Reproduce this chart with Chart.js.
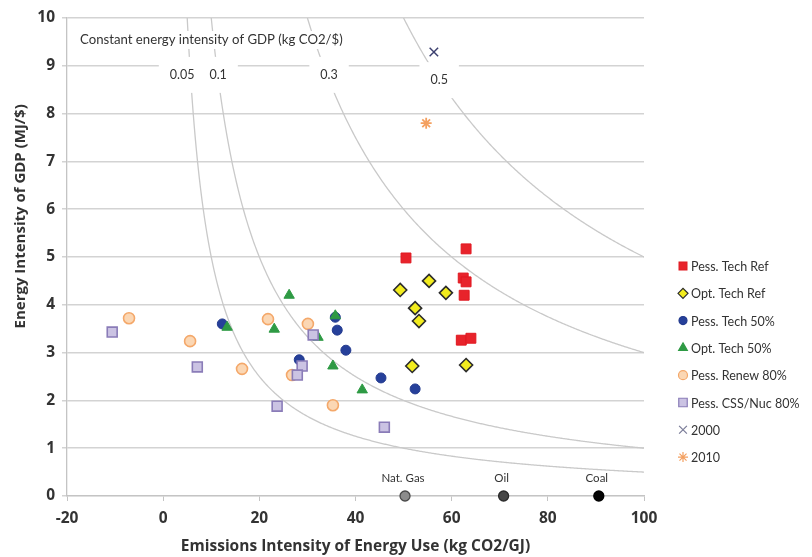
<!DOCTYPE html>
<html>
<head>
<meta charset="utf-8">
<script src="https://cdn.jsdelivr.net/npm/chart.js@4/dist/chart.umd.min.js"></script>
<style>
  html, body { margin: 0; padding: 0; background: #fff; }
  canvas { display: block; }
</style>
</head>
<body>
<canvas id="chart" width="812" height="557"></canvas>
<script>
// data: [emissions kg CO2/GJ, energy MJ/$]
const pessTechRef = [[50.5, 4.98], [63.0, 5.17], [62.4, 4.56], [63.0, 4.48], [62.6, 4.2], [62.0, 3.26], [64.0, 3.3]];
const optTechRef = [[49.3, 4.31], [55.3, 4.5], [58.8, 4.25], [52.4, 3.93], [53.2, 3.66], [51.8, 2.72], [63.0, 2.74]];
const pessTech50 = [[12.3, 3.6], [35.8, 3.74], [36.2, 3.47], [38.0, 3.05], [28.3, 2.85], [45.3, 2.47], [52.4, 2.24]];
const optTech50 = [[26.2, 4.2], [13.3, 3.53], [23.1, 3.49], [35.8, 3.77], [32.2, 3.32], [35.3, 2.72], [41.4, 2.22]];
const pessRenew80 = [[-7.1, 3.72], [5.6, 3.24], [21.8, 3.7], [30.1, 3.6], [16.4, 2.66], [26.8, 2.53], [35.3, 1.9]];
const pessCssNuc80 = [[-10.6, 3.43], [7.1, 2.7], [31.2, 3.37], [28.9, 2.72], [27.9, 2.53], [23.7, 1.88], [46.0, 1.44]];
const year2000 = [[56.3, 9.29]];
const year2010 = [[54.7, 7.8]];

const fuelNames = ['Nat. Gas', 'Oil', 'Coal'];
const fuelEmissions = [50.3, 70.8, 90.6];

// constant kg CO2/$ curves
const curveValues = [0.05, 0.1, 0.3, 0.5];
const curveLabels = ['0.05', '0.1', '0.3', '0.5'];
const curveTitle = 'Constant energy intensity of GDP (kg CO2/$)';

const xTitle = 'Emissions Intensity of Energy Use (kg CO2/GJ)';
const yTitle = 'Energy Intensity of GDP (MJ/$)';

const FONT = 'Lato, "Open Sans", sans-serif';
const AXIS_FONT = '"Open Sans", Lato, sans-serif';
const toPts = arr => arr.map(p => ({ x: p[0], y: p[1] }));

const seriesDefs = [
  { label: 'Pess. Tech Ref', data: pessTechRef, style: 'rect', r: 7, bg: '#e8232b', border: '#e01820', bw: 1, lr: 5.5 },
  { label: 'Opt. Tech Ref', data: optTechRef, style: 'rectRot', r: 6.5, bg: '#f2ec1e', border: '#2b2b2b', bw: 1.6, lr: 5 },
  { label: 'Pess. Tech 50%', data: pessTech50, style: 'circle', r: 5, bg: '#26409a', border: '#233a8e', bw: 1, lr: 4 },
  { label: 'Opt. Tech 50%', data: optTech50, style: 'triangle', r: 6, bg: '#2e9a44', border: '#2e9a44', bw: 1, lr: 5 },
  { label: 'Pess. Renew 80%', data: pessRenew80, style: 'circle', r: 5.5, bg: '#fbd7b4', border: '#f4a86a', bw: 1.6, lr: 4.5 },
  { label: 'Pess. CSS/Nuc 80%', data: pessCssNuc80, style: 'rect', r: 7, bg: '#cbc3e3', border: '#8a7cb8', bw: 1.6, lr: 6 },
  { label: '2000', data: year2000, style: 'crossRot', r: 6, bg: '#3d4170', border: '#3d4170', bw: 1.5, lr: 5.5 },
  { label: '2010', data: year2010, style: 'star', r: 5.5, bg: '#f4a060', border: '#f4a060', bw: 1.8, lr: 5 }
];

const datasets = seriesDefs.map((s, i) => ({
  label: s.label,
  data: toPts(s.data),
  pointStyle: s.style,
  pointRadius: s.r,
  pointBackgroundColor: s.bg,
  pointBorderColor: s.border,
  pointBorderWidth: s.bw,
  showLine: false,
  order: seriesDefs.length - i
}));

datasets.push({
  label: 'fuels',
  data: fuelEmissions.map(x => ({ x: x, y: 0 })),
  pointStyle: 'circle',
  pointRadius: 5,
  pointBackgroundColor: ['#8c8c8c', '#474747', '#050505'],
  pointBorderColor: ['#4a4a4a', '#2a2a2a', '#000'],
  pointBorderWidth: 1.3,
  showLine: false,
  clip: false,
  order: 0
});

// curves, their labels and the white label boxes
const curvePlugin = {
  id: 'curves',
  beforeDatasetsDraw(chart) {
    const { ctx, chartArea: a, scales: { x, y } } = chart;
    ctx.save();
    ctx.beginPath();
    ctx.rect(a.left, a.top, a.right - a.left, a.bottom - a.top);
    ctx.clip();
    ctx.strokeStyle = '#c9c9c9';
    ctx.lineWidth = 1.3;
    curveValues.forEach(c => {
      const k = c * 1000;
      ctx.beginPath();
      let first = true;
      for (let px = x.getPixelForValue(k / 10); px <= a.right + 1; px += 1) {
        const xv = x.getValueForPixel(px);
        if (xv <= 0) continue;
        const py = y.getPixelForValue(k / xv);
        if (first) { ctx.moveTo(px, py); first = false; } else ctx.lineTo(px, py);
      }
      ctx.stroke();
    });
    ctx.restore();

    // label boxes
    const anchors = [[3.95, 8.81], [11.43, 8.81], [34.5, 8.81], [57.4, 8.7]];
    ctx.save();
    ctx.font = '12.5px ' + FONT;
    ctx.textAlign = 'center';
    ctx.textBaseline = 'middle';
    anchors.forEach((p, i) => {
      const cx = x.getPixelForValue(p[0]);
      const cy = y.getPixelForValue(p[1]);
      const w = ctx.measureText(curveLabels[i]).width;
      ctx.fillStyle = '#fff';
      ctx.fillRect(cx - w / 2 - 11, cy - 18, w + 22, 36);
    });
    anchors.forEach((p, i) => {
      ctx.fillStyle = '#333';
      ctx.fillText(curveLabels[i], x.getPixelForValue(p[0]), y.getPixelForValue(p[1]));
    });
    // title of the curves
    ctx.font = '13.2px ' + FONT;
    ctx.textAlign = 'left';
    const tx = x.getPixelForValue(-17.3);
    const ty = y.getPixelForValue(9.54);
    const tw = ctx.measureText(curveTitle).width;
    ctx.fillStyle = '#fff';
    ctx.fillRect(tx - 4, ty - 9, tw + 8, 18);
    ctx.fillStyle = '#333';
    ctx.fillText(curveTitle, tx, ty);
    ctx.restore();
  },
  afterDatasetsDraw(chart) {
    const { ctx, scales: { x, y } } = chart;
    ctx.save();
    ctx.font = '11.5px ' + FONT;
    ctx.fillStyle = '#333';
    ctx.textAlign = 'center';
    ctx.textBaseline = 'middle';
    fuelEmissions.forEach((v, i) => {
      ctx.fillText(fuelNames[i], x.getPixelForValue(v) - 2, y.getPixelForValue(0) - 18);
    });
    ctx.restore();
  }
};

// y title sits above the axis centre in the original, so draw it by hand
const yTitlePlugin = {
  id: 'yTitle',
  afterDraw(chart) {
    const { ctx, scales: { y } } = chart;
    ctx.save();
    ctx.translate(21, y.getPixelForValue(5.85));
    ctx.rotate(-Math.PI / 2);
    ctx.font = 'bold 15px ' + AXIS_FONT;
    ctx.fillStyle = '#333';
    ctx.textAlign = 'center';
    ctx.textBaseline = 'middle';
    ctx.fillText(yTitle, 0, 0);
    ctx.restore();
  }
};

// legend on the right, drawn with the chart's own point shapes
const legendPlugin = {
  id: 'sideLegend',
  afterDraw(chart) {
    const { ctx } = chart;
    seriesDefs.forEach((s, i) => {
      const yy = 266 + i * 27.3;
      ctx.save();
      ctx.fillStyle = s.bg;
      ctx.strokeStyle = s.style === 'crossRot' ? '#7a7c98' : s.border;
      ctx.lineWidth = 1.2;
      Chart.helpers.drawPoint(ctx, { pointStyle: s.style, radius: s.lr, borderWidth: 1.2 }, 683, yy);
      ctx.font = '12.5px ' + FONT;
      ctx.fillStyle = '#333';
      ctx.textBaseline = 'middle';
      ctx.textAlign = 'left';
      ctx.fillText(s.label, 691, yy + 1);
      ctx.restore();
    });
  }
};

new Chart(document.getElementById('chart'), {
  type: 'scatter',
  data: { datasets: datasets },
  options: {
    responsive: false,
    animation: false,
    devicePixelRatio: 1,
    layout: { padding: { left: 0, right: 168, top: 18, bottom: 0 } },
    plugins: {
      legend: { display: false },
      tooltip: { enabled: false }
    },
    scales: {
      x: {
        type: 'linear',
        min: -20,
        max: 100,
        afterFit(scale) { scale.height = 61; },
        ticks: {
          stepSize: 20,
          color: '#333',
          font: { family: AXIS_FONT, size: 15.5, weight: 'bold' },
          padding: 8
        },
        grid: {
          drawOnChartArea: false,
          drawTicks: true,
          tickLength: 5,
          color: '#c4c4c4'
        },
        border: { display: true, color: '#c4c4c4', width: 1.3 },
        title: {
          display: true,
          text: xTitle,
          color: '#333',
          font: { family: AXIS_FONT, size: 15.5, weight: 'bold' },
          padding: { top: 2, bottom: 1 }
        }
      },
      y: {
        type: 'linear',
        min: 0,
        max: 10,
        afterFit(scale) { scale.width = 67; },
        ticks: {
          stepSize: 1,
          color: '#333',
          font: { family: AXIS_FONT, size: 15.5, weight: 'bold' },
          padding: 7
        },
        grid: {
          color: '#d3d3d3',
          lineWidth: 1.5,
          tickLength: 5
        },
        border: { display: true, color: '#c4c4c4', width: 1.3 },
        title: { display: false }
      }
    }
  },
  plugins: [curvePlugin, yTitlePlugin, legendPlugin]
});
</script>
</body>
</html>
